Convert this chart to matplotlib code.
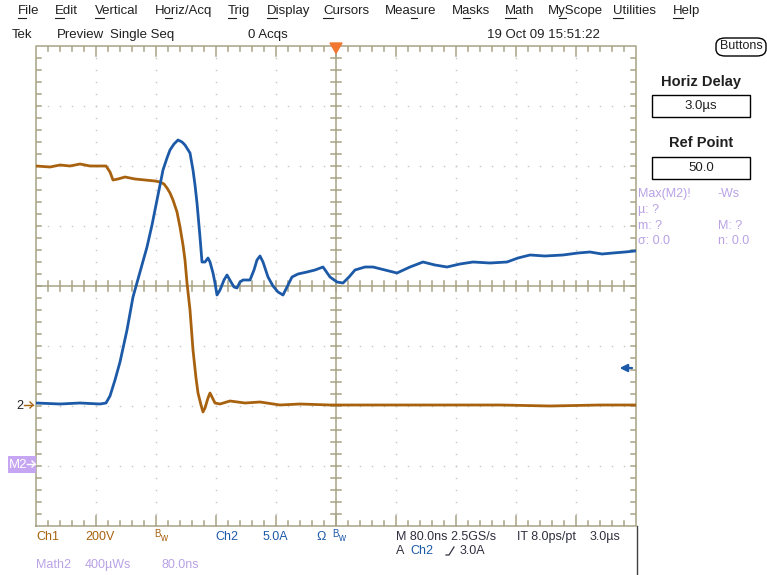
import numpy as np
import matplotlib.pyplot as plt
from matplotlib.patches import Rectangle, FancyBboxPatch, Polygon

W, H = 767, 575

# traces in divisions (x: -5..5, 80 ns/div ; y: -4..4)
ch1_px = [36, 50, 60, 70, 80, 90, 100, 106, 110, 113, 118, 125, 135, 145, 155, 160, 164, 167, 170,
          173, 177, 180, 183, 185, 187, 190, 193, 196, 198, 201, 203, 205, 208, 210, 212, 215, 220,
          230, 245, 260, 280, 300, 330, 360, 400, 450, 500, 550, 600, 636]
ch1_py = [166, 167, 165, 166, 164, 166, 166, 166, 172, 180, 179, 177, 179, 180, 181, 182, 184, 188, 193,
          200, 212, 227, 245, 260, 283, 310, 350, 378, 393, 405, 412, 408, 398, 393, 397, 403, 404,
          401, 403, 402, 405, 404, 405, 405, 405, 405, 405, 406, 405, 405]

ch2_px = [36, 60, 80, 100, 106, 110, 115, 120, 127, 133, 140, 147, 152, 157, 160, 163, 167, 170, 174,
          178, 182, 185, 190, 193, 195, 197, 200, 202, 205, 208, 210, 213, 215, 217, 220, 224, 227,
          231, 234, 237, 240, 243, 250, 254, 257, 260, 263, 268, 273, 278, 283, 287, 292, 298, 307,
          315, 323, 330, 337, 343, 349, 355, 365, 373, 385, 397, 410, 423, 435, 447, 460, 473, 490,
          507, 518, 530, 545, 563, 578, 590, 602, 613, 625, 635]
ch2_py = [403, 404, 403, 404, 403, 396, 380, 362, 330, 297, 272, 247, 225, 200, 185, 170, 158, 150, 144,
          140, 142, 145, 153, 170, 185, 203, 237, 262, 262, 258, 262, 273, 283, 295, 290, 280, 275,
          282, 287, 288, 282, 280, 280, 270, 260, 256, 262, 277, 286, 292, 295, 287, 277, 274, 272,
          270, 267, 277, 282, 283, 277, 270, 267, 267, 270, 273, 267, 262, 265, 267, 264, 262, 263,
          262, 258, 255, 256, 255, 253, 252, 254, 253, 252, 251]

ch1_x = (np.array(ch1_px) - 336) / 60
ch1_y = (286 - np.array(ch1_py)) / 60
ch2_x = (np.array(ch2_px) - 336) / 60
ch2_y = (286 - np.array(ch2_py)) / 60

menu = [("File", 18), ("Edit", 55), ("Vertical", 95), ("Horiz/Acq", 155), ("Trig", 228),
        ("Display", 267), ("Cursors", 323), ("Measure", 385), ("Masks", 452), ("Math", 505),
        ("MyScope", 548), ("Utilities", 613), ("Help", 673)]
# index of the underlined (mnemonic) letter in each menu name
mnemonic = [0, 0, 0, 1, 0, 0, 0, 3, 1, 0, 1, 0, 0]

BROWN = '#a8620f'
BLUE = '#1c5aa8'
PURPLE = '#b9a2e6'
FRAME = '#a8a284'
DOTS = '#c4c4c4'
TXT = '#202020'
FONT = ['Liberation Sans', 'DejaVu Sans']

fig = plt.figure(figsize=(W / 100, H / 100), dpi=100)
fig.patch.set_facecolor('white')


def fx(px):
    return px / W


def fy(py):
    return 1 - py / H


def txt(px, py, s, color=TXT, size=9, **kw):
    return fig.text(fx(px), fy(py), s, color=color, fontsize=size, family=FONT, va='center', **kw)


ax = fig.add_axes([fx(36), fy(526), 600 / W, 480 / H])
ax.set_xlim(-5, 5)
ax.set_ylim(-4, 4)
ax.axis('off')

# dotted graticule
minor = np.arange(-5, 5.01, 0.2)
minor_y = np.arange(-4, 4.01, 0.2)
for g in range(-4, 5):
    if g != 0:
        ax.plot(np.full_like(minor_y, g), minor_y, ls='none', marker='s', ms=1.0, color=DOTS, mew=0)
for g in range(-3, 4):
    if g != 0:
        ax.plot(minor, np.full_like(minor, g), ls='none', marker='s', ms=1.0, color=DOTS, mew=0)

# frame and centre cross
lw = 1.1
ax.plot([-5, 5, 5, -5, -5], [-4, -4, 4, 4, -4], color=FRAME, lw=lw, clip_on=False)
ax.axhline(0, color=FRAME, lw=lw)
ax.axvline(0, color=FRAME, lw=lw)
t = 5 / 60
for v in minor[1:-1]:
    big = abs(v - round(v)) < 1e-6
    ax.plot([v, v], [-t, t], color=FRAME, lw=lw)
    L = 10 / 60 if big else 5 / 60
    ax.plot([v, v], [4, 4 - L], color=FRAME, lw=lw)
    ax.plot([v, v], [-4, -4 + L], color=FRAME, lw=lw)
for v in minor_y[1:-1]:
    ax.plot([-t, t], [v, v], color=FRAME, lw=lw)
    ax.plot([-5, -5 + 5 / 60], [v, v], color=FRAME, lw=lw)
    ax.plot([5, 5 - 5 / 60], [v, v], color=FRAME, lw=lw)

# traces
ax.plot(ch1_x, ch1_y, color=BROWN, lw=2.0, zorder=5)
ax.plot(ch2_x, ch2_y, color=BLUE, lw=2.0, zorder=6)

# trigger marker and level arrow
ax.add_patch(Polygon([[-0.1, 4.05], [0.1, 4.05], [0, 3.88]], closed=True, color='#f07830',
                     clip_on=False, zorder=7))
ax.annotate('', xy=(4.68, (286 - 368) / 60), xytext=(4.98, (286 - 368) / 60),
            arrowprops=dict(arrowstyle='-|>', color=BLUE, lw=1.6, mutation_scale=11))

# menu bar
fig.canvas.draw()
r = fig.canvas.get_renderer()
for (name, x), k in zip(menu, mnemonic):
    t1 = txt(x, 11, name, size=9.5)
    pre = txt(x, 11, name[:k], size=9.5, alpha=0)
    ch = txt(x, 11, name[:k + 1], size=9.5, alpha=0)
    x0 = pre.get_window_extent(r).x1 if k else t1.get_window_extent(r).x0
    x1 = ch.get_window_extent(r).x1
    fig.add_artist(plt.Line2D([x0 / W, x1 / W], [fy(18), fy(18)], color=TXT, lw=0.8))
    pre.remove()
    ch.remove()
txt(12, 35, "Tek", size=9.5)
txt(57, 35, "Preview", size=9.5)
txt(110, 35, "Single Seq", size=9.5)
txt(248, 35, "0 Acqs", size=9.5)
txt(487, 35, "19 Oct 09 15:51:22", size=9.5)

fig.patches.append(FancyBboxPatch((fx(716), fy(56)), 50 / W, 18 / H, boxstyle='round,pad=0,rounding_size=0.012',
                                  transform=fig.transFigure, fc='white', ec='black', lw=1))
txt(741, 46, "Buttons", size=9, ha='center')

# right panel
fig.text(fx(701), fy(82), "Horiz Delay", fontsize=10.5, weight='bold', family=FONT,
         ha='center', va='center', color=TXT)
fig.patches.append(Rectangle((fx(652), fy(117)), 98 / W, 22 / H, transform=fig.transFigure,
                             fc='white', ec='black', lw=1))
txt(701, 106, "3.0µs", size=9.5, ha='center')
fig.text(fx(701), fy(143), "Ref Point", fontsize=10.5, weight='bold', family=FONT,
         ha='center', va='center', color=TXT)
fig.patches.append(Rectangle((fx(652), fy(179)), 98 / W, 22 / H, transform=fig.transFigure,
                             fc='white', ec='black', lw=1))
txt(701, 168, "50.0", size=9.5, ha='center')

txt(638, 194, "Max(M2)!", color=PURPLE)
txt(718, 194, "-Ws", color=PURPLE)
txt(638, 210, "µ: ?", color=PURPLE)
txt(638, 226, "m: ?", color=PURPLE)
txt(718, 226, "M: ?", color=PURPLE)
txt(638, 241, "σ: 0.0", color=PURPLE)
txt(718, 241, "n: 0.0", color=PURPLE)

fig.add_artist(plt.Line2D([fx(637), fx(637)], [fy(526), 0], color='#404040', lw=1))

# channel markers on the left
txt(16, 406, "2", size=9)
fig.add_artist(plt.Line2D([fx(24), fx(33)], [fy(405), fy(405)], color=BROWN, lw=1))
fig.add_artist(plt.Line2D([fx(30), fx(33), fx(30)], [fy(402), fy(405), fy(408)], color=BROWN, lw=1))
fig.patches.append(Rectangle((fx(8), fy(473)), 28 / W, 17 / H, transform=fig.transFigure,
                             fc='#c6a6f2', ec='none'))
txt(9, 465, "M2", color='white', size=9.5)
fig.add_artist(plt.Line2D([fx(27), fx(35)], [fy(464), fy(464)], color='white', lw=1))
fig.add_artist(plt.Line2D([fx(32), fx(35), fx(32)], [fy(461), fy(464), fy(467)], color='white', lw=1))

# readout
txt(36, 537, "Ch1", color=BROWN)
txt(85, 537, "200V", color=BROWN)
txt(154, 534, "B", color=BROWN, size=7)
txt(160, 538, "w", color=BROWN, size=7)
txt(215, 537, "Ch2", color=BLUE)
txt(263, 537, "5.0A", color=BLUE)
txt(316, 537, "Ω", color=BLUE)
txt(332, 534, "B", color=BLUE, size=7)
txt(338, 538, "w", color=BLUE, size=7)
txt(396, 537, "M 80.0ns 2.5GS/s", color='#303040')
txt(517, 537, "IT 8.0ps/pt", color='#303040')
txt(590, 537, "3.0µs", color='#303040')
txt(396, 551, "A", color='#303040')
txt(410, 551, "Ch2", color=BLUE)
# rising-edge trigger slope symbol
fig.add_artist(plt.Line2D([fx(446), fx(449), fx(454)], [fy(555), fy(555), fy(547)], color='#303040', lw=0.9))
txt(460, 551, "3.0A", color='#303040')
txt(36, 565, "Math2", color=PURPLE)
txt(85, 565, "400µWs", color=PURPLE)
txt(162, 565, "80.0ns", color=PURPLE)

fig.savefig('out.png', dpi=100)
